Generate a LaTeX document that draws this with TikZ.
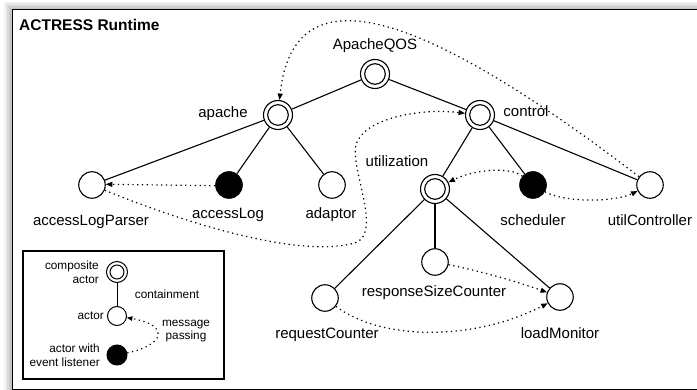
\documentclass[tikz,border=0pt]{standalone}
\usepackage{fontspec}
\setmainfont{Liberation Sans}
\usetikzlibrary{arrows.meta}
\begin{document}
\begin{tikzpicture}[x=1pt,y=-1pt,
  actor/.style={circle,draw,line width=1.1pt,minimum size=26.5pt,inner sep=0pt,fill=white},
  evactor/.style={actor,fill=black},
  compactor/.style={actor,minimum size=29pt,path picture={\draw[line width=1.1pt] (path picture bounding box.center) circle[radius=10.3pt];}},
  smallactor/.style={actor,line width=1pt,minimum size=19pt},
  smallev/.style={smallactor,minimum size=20pt,fill=black},
  smallcomp/.style={smallactor,minimum size=21pt,path picture={\draw[line width=1pt] (path picture bounding box.center) circle[radius=7pt];}},
  lbl/.style={font=\fontsize{15}{18}\selectfont,inner sep=0pt,text height=11pt,text depth=3pt},
  lgd/.style={font=\fontsize{11.8}{13.8}\selectfont,inner sep=0pt},
  tree/.style={line width=1.1pt},
  msg/.style={line width=1.2pt,dash pattern=on 1.3pt off 3.5pt,-{Triangle[length=6.5pt,width=5pt]}},
  lmsg/.style={msg,line width=1.1pt,-{Triangle[length=5.5pt,width=4.5pt]}},
]
\useasboundingbox (0,0) rectangle (697,390);
% frame with soft shadow
\foreach \i in {1,...,5}{\fill[black,opacity=0.05] (12-\i*1.6,9-\i*1.4) rectangle (720,400);}
\fill[white] (12.5,9.5) rectangle (720,389.5);
\draw[line width=1.5pt] (12.5,9.5) rectangle (720,389.5);
\node[font=\bfseries\fontsize{15.5}{18}\selectfont,anchor=west,inner sep=0pt] (title) at (19,25) {ACTRESS Runtime};

% actors
\node[compactor] (qos) at (375,74) {};
\node[compactor] (apache) at (278,115) {};
\node[compactor] (ctrl) at (480,115) {};
\node[actor] (alp) at (92,185) {};
\node[evactor] (alog) at (229,185) {};
\node[actor] (adapt) at (332,185) {};
\node[compactor] (util) at (435,189) {};
\node[evactor] (sched) at (533,185) {};
\node[actor] (uc) at (650,185) {};
\node[actor] (rsc) at (435,262) {};
\node[actor] (rc) at (325,298) {};
\node[actor] (lm) at (560,297) {};

% labels
\node[lbl] (lqos) at (375,46) {ApacheQOS};
\node[lbl] (lapache) at (223,114) {apache};
\node[lbl] (lctrl) at (526,113) {control};
\node[lbl] (lutil) at (397,163) {utilization};
\node[lbl] (lalp) at (91,222) {accessLogParser};
\node[lbl] (lalog) at (228,215) {accessLog};
\node[lbl] (ladapt) at (331,215) {adaptor};
\node[lbl] (lsched) at (533,222) {scheduler};
\node[lbl] (luc) at (650,222) {utilController};
\node[lbl] (lrsc) at (434,293) {responseSizeCounter};
\node[lbl] (lrc) at (327,335) {requestCounter};
\node[lbl] (llm) at (560,335) {loadMonitor};

% containment
\foreach \a/\b in {qos/apache,qos/ctrl,apache/alp,apache/alog,apache/adapt,ctrl/util,ctrl/sched,ctrl/uc,util/rc,util/rsc,util/lm}
  \draw[tree] (\a) -- (\b);

% message passing
\draw[msg] (alog.183) -- (alp.3);
\draw[msg] (uc) .. controls (460,40) and (295,-50) .. (apache);
\draw[msg] (alp) .. controls (190,225) and (300,258) .. (355,243)
   .. controls (385,232) and (345,160) .. (358,140)
   .. controls (370,118) and (420,108) .. (ctrl);
\draw[msg] (sched) .. controls (510,166) and (473,170) .. (util);
\draw[msg] (sched) .. controls (565,203) and (615,202) .. (uc);
\draw[msg] (rsc) .. controls (480,271) and (515,281) .. (lm);
\draw[msg] (rc) .. controls (380,340) and (472,342) .. (lm);

% legend
\node[draw,line width=1.1pt,minimum width=201pt,minimum height=128pt,inner sep=0pt] (legend) at (123.5,315) {};
\node[smallcomp] (lc) at (117,272) {};
\node[smallactor] (la) at (117,316) {};
\node[smallev] (lf) at (117,355) {};
\draw[tree,line width=1pt] (lc) -- (la);
\draw[lmsg] (lf) .. controls (165,345) and (170,325) .. (la);
\node[lgd,anchor=east,align=right] (lt1) at (99,272) {composite\\actor};
\node[lgd] (lt2) at (167,294) {containment};
\node[lgd,anchor=east] (lt3) at (104,316) {actor};
\node[lgd,align=center] (lt4) at (186,331) {message\\passing};
\node[lgd,anchor=east,align=right] (lt5) at (100,355) {actor with\\event listener};
\end{tikzpicture}
\end{document}
